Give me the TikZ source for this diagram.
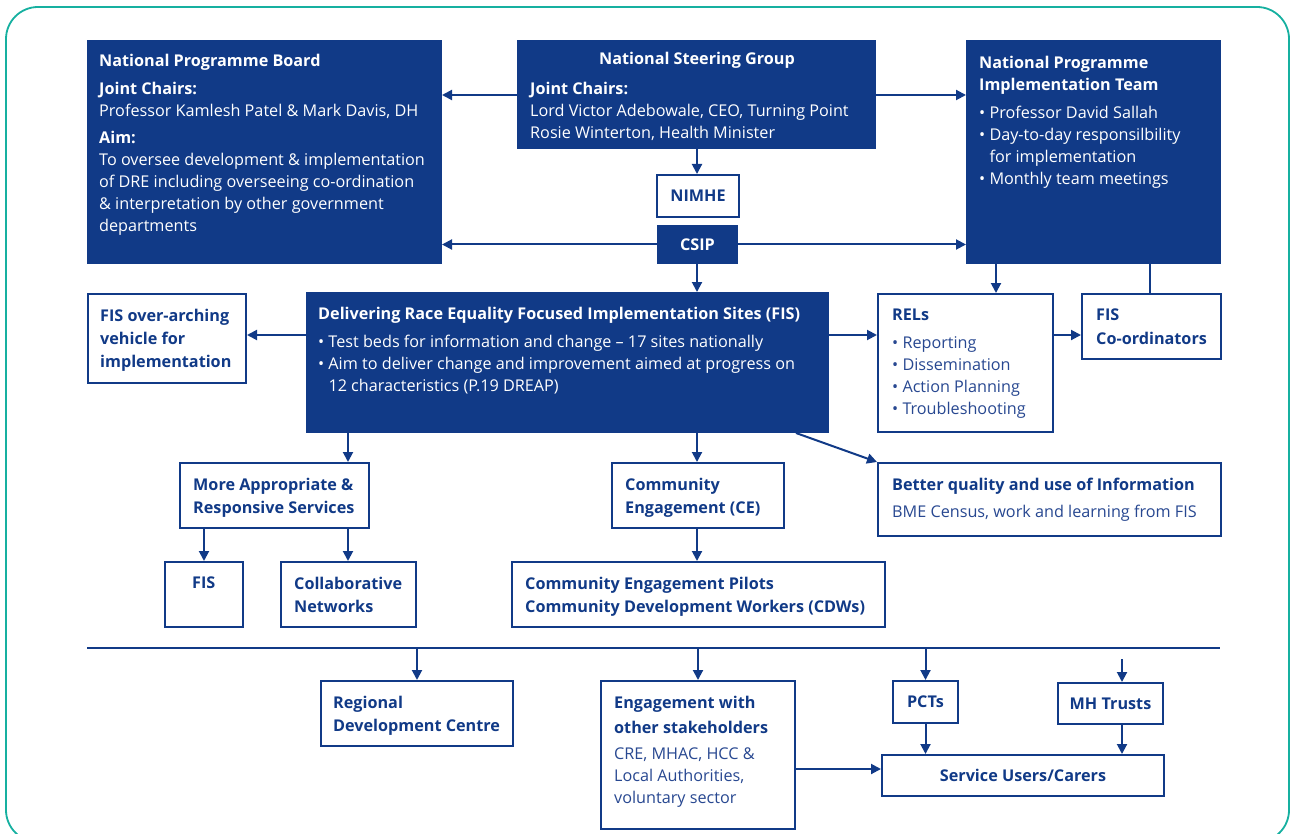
\documentclass[tikz,border=0pt]{standalone}
\usepackage{fontspec}
\setmainfont{Open Sans}
\usetikzlibrary{arrows.meta,calc}
\definecolor{nhsblue}{RGB}{17,58,135}
\definecolor{softblue}{RGB}{40,72,145}
\definecolor{frameteal}{RGB}{22,176,160}
\newcommand\myfs{\fontsize{16.2}{22}\selectfont}
\begin{document}
\begin{tikzpicture}[x=1pt,y=-1pt,
  fillbox/.style={draw=nhsblue, fill=nhsblue, line width=1pt, inner sep=0pt, anchor=north west},
  linebox/.style={draw=nhsblue, fill=white, line width=2pt, inner sep=0pt, anchor=north west},
  basetxt/.style={inner sep=0pt, anchor=north west, align=left, font=\myfs},
  wtxt/.style={basetxt, text=white},
  btxt/.style={basetxt, text=softblue},
  bbold/.style={basetxt, text=nhsblue, font=\fontsize{16.2}{23}\selectfont\bfseries},
  ctxt/.style={inner sep=0pt, font=\myfs\bfseries},
  arr/.style={draw=nhsblue, line width=2pt, -{Triangle[length=10pt,width=10pt]}},
  conn/.style={draw=nhsblue, line width=2pt},
]
\useasboundingbox (0,0) rectangle (1292,834);
\clip (0,0) rectangle (1292,834);
% frame
\draw[frameteal, line width=1.8pt, rounded corners=32pt] (6,7) rectangle (1289,842);

% ---------- boxes ----------
\node[fillbox, minimum width=354pt, minimum height=223pt] (npb) at (87,40) {};
\node[fillbox, minimum width=358pt, minimum height=108pt] (nsg) at (517,40) {};
\node[fillbox, minimum width=254pt, minimum height=223pt] (npit) at (966,40) {};
\node[linebox, minimum width=82pt, minimum height=42pt] (nimhe) at (656,174) {};
\node[fillbox, minimum width=80pt, minimum height=38pt] (csip) at (657,225) {};
\node[fillbox, minimum width=522pt, minimum height=140pt] (dre) at (306,292) {};
\node[linebox, minimum width=158pt, minimum height=89pt] (fov) at (87,293) {};
\node[linebox, minimum width=175pt, minimum height=138pt] (rels) at (877,293) {};
\node[linebox, minimum width=139pt, minimum height=65pt] (fisc) at (1081,293) {};
\node[linebox, minimum width=343pt, minimum height=73pt] (bq) at (877,462) {};
\node[linebox, minimum width=189pt, minimum height=65pt] (mars) at (179,462) {};
\node[linebox, minimum width=172pt, minimum height=65pt] (ce) at (611,462) {};
\node[linebox, minimum width=78pt, minimum height=65pt] (fis) at (164,561) {};
\node[linebox, minimum width=135pt, minimum height=65pt] (coll) at (280,561) {};
\node[linebox, minimum width=373pt, minimum height=65pt] (cep) at (511,561) {};
\node[linebox, minimum width=192pt, minimum height=65pt] (rdc) at (320,680) {};
\node[linebox, minimum width=194pt, minimum height=148pt] (eng) at (600,680) {};
\node[linebox, minimum width=65pt, minimum height=42pt] (pct) at (892,680) {};
\node[linebox, minimum width=105pt, minimum height=41pt] (mht) at (1057,682) {};
\node[linebox, minimum width=282pt, minimum height=41pt] (suc) at (881,754) {};

% ---------- texts ----------
\node[wtxt] (t-npb) at (99,54) {\textbf{National Programme Board}\\[6pt]
  \textbf{Joint Chairs:}\\
  Professor Kamlesh Patel \& Mark Davis, DH\\[5pt]
  \textbf{Aim:}\\
  To oversee development \& implementation\\
  of DRE including overseeing co-ordination\\
  \& interpretation by other government\\
  departments};
\node[ctxt, text=white] (t-nsg) at (697,60) {National Steering Group};
\node[wtxt] (t-nsg2) at (530,82) {\textbf{Joint Chairs:}\\
  Lord Victor Adebowale, CEO, Turning Point\\
  Rosie Winterton, Health Minister};
\node[wtxt] (t-npit) at (979,56) {\textbf{National Programme}\\
  \textbf{Implementation Team}\\[6pt]
  • Professor David Sallah\\
  • Day-to-day responsilbility\\
  \phantom{• }for implementation\\
  • Monthly team meetings};
\node[ctxt, text=nhsblue] (t-nimhe) at (nimhe.center) {NIMHE};
\node[ctxt, text=white] (t-csip) at (csip.center) {CSIP};
\node[wtxt] (t-dre) at (318,307) {\textbf{Delivering Race Equality Focused Implementation Sites (FIS)}\\[6pt]
  • Test beds for information and change – 17 sites nationally\\
  • Aim to deliver change and improvement aimed at progress on\\
  \phantom{• }12 characteristics (P.19 DREAP)};
\node[bbold] (t-fov) at (100,309) {FIS over-arching\\vehicle for\\implementation};
\node[btxt] (t-rels) at (892,309) {\textcolor{nhsblue}{\textbf{RELs}}\\[6pt]
  • Reporting\\ • Dissemination\\ • Action Planning\\ • Troubleshooting};
\node[bbold, font=\fontsize{16.2}{24}\selectfont\bfseries] (t-fisc) at (1096,309) {FIS\\Co-ordinators};
\node[btxt] (t-bq) at (892,478) {\textcolor{nhsblue}{\textbf{Better quality and use of Information}}\\[5pt]
  BME Census, work and learning from FIS};
\node[bbold] (t-mars) at (193,478) {More Appropriate \&\\Responsive Services};
\node[bbold] (t-ce) at (625,478) {Community\\Engagement (CE)};
\node[bbold] (t-fis) at (192,577) {FIS};
\node[bbold] (t-coll) at (294,577) {Collaborative\\Networks};
\node[bbold] (t-cep) at (525,577) {Community Engagement Pilots\\Community Development Workers (CDWs)};
\node[bbold] (t-rdc) at (333,696) {Regional\\Development Centre};
\node[btxt] (t-eng) at (614,696) {\textcolor{nhsblue}{\textbf{Engagement with}}\\[3pt]
  \textcolor{nhsblue}{\textbf{other stakeholders}}\\[4pt]
  CRE, MHAC, HCC \&\\ Local Authorities,\\ voluntary sector};
\node[ctxt, text=nhsblue] (t-pct) at (pct.center) {PCTs};
\node[ctxt, text=nhsblue] (t-mht) at (mht.center) {MH Trusts};
\node[ctxt, text=nhsblue] (t-suc) at (suc.center) {Service Users/Carers};

% ---------- connectors ----------
\draw[arr] (nsg.west |- 0,95) -- (npb.east |- 0,95);
\draw[arr] (nsg.east |- 0,95) -- (npit.west |- 0,95);
\draw[arr] (nsg.south -| 697,0) -- (nimhe.north -| 697,0);
\draw[arr] (csip.west) -- (npb.east |- csip.west);
\draw[arr] (csip.east) -- (npit.west |- csip.east);
\draw[arr] (csip.south -| 697,0) -- (dre.north -| 697,0);
\draw[arr] (npit.south -| 996,0) -- (rels.north -| 996,0);
\draw[conn] (npit.south -| 1150,0) -- (fisc.north -| 1150,0);
\draw[arr] (dre.west |- 0,335) -- (fov.east |- 0,335);
\draw[arr] (dre.east |- 0,335) -- (rels.west |- 0,335);
\draw[arr] (rels.east |- 0,335) -- (fisc.west |- 0,335);
\draw[arr] (dre.south -| 348,0) -- (mars.north -| 348,0);
\draw[arr] (dre.south -| 697,0) -- (ce.north -| 697,0);
\draw[arr] (dre.south -| 796,0) -- (bq.north west);
\draw[arr] (mars.south -| 204,0) -- (fis.north -| 204,0);
\draw[arr] (mars.south -| 348,0) -- (coll.north -| 348,0);
\draw[arr] (ce.south -| 697,0) -- (cep.north -| 697,0);
% bus line
\coordinate (busL) at (87,648);
\coordinate (busR) at (1220,648);
\coordinate (mhtop) at (1122,659);
\draw[conn] (busL) -- (busR);
\draw[arr] (busL -| rdc.north) -- (rdc.north);
\draw[arr] (busL -| eng.north) -- (eng.north);
\draw[arr] (busL -| pct.north) -- (pct.north);
\draw[arr] (mhtop) -- (mht.north -| mhtop);
\draw[arr] (pct.south) -- (suc.north -| pct.south);
\draw[arr] (mht.south -| mhtop) -- (suc.north -| mhtop);
\draw[arr] (eng.east |- 0,769) -- (suc.west |- 0,769);
\end{tikzpicture}
\end{document}
